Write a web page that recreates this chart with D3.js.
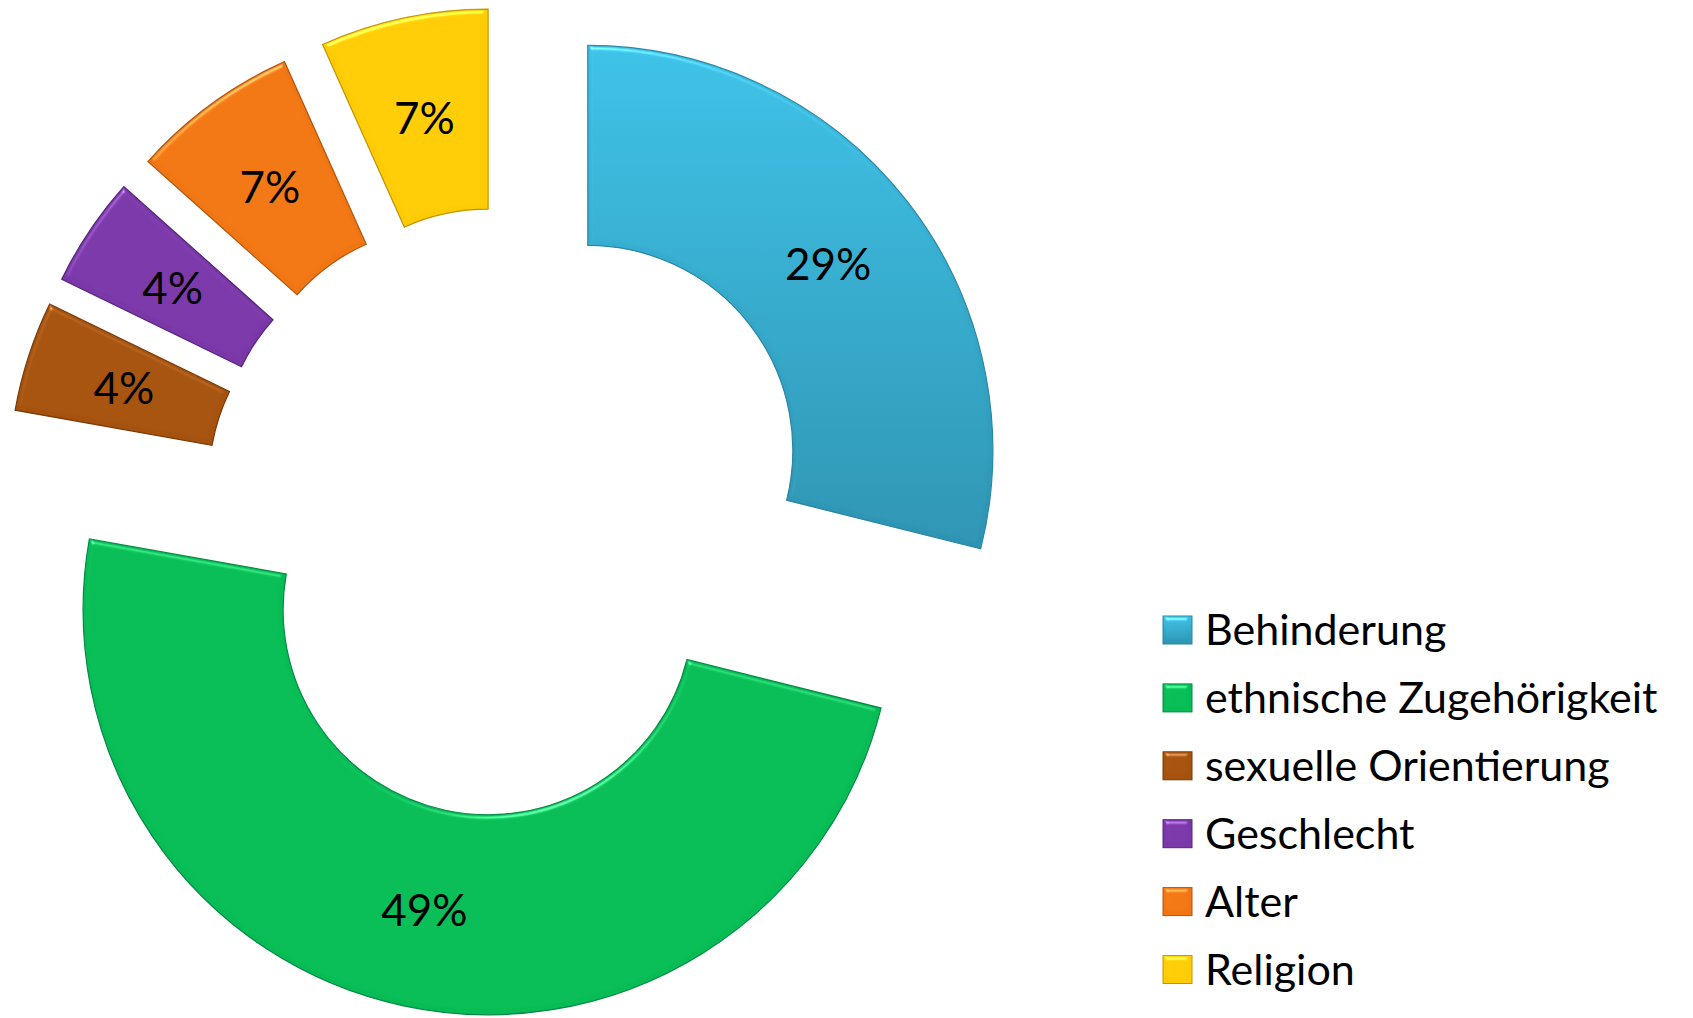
<!DOCTYPE html>
<html>
<head>
<meta charset="utf-8">
<script src="https://cdn.jsdelivr.net/npm/d3@7"></script>
<style>
    html, body { margin: 0; padding: 0; background: #fff; }
    svg { display: block; }
    text { font-family: Lato, "Open Sans", sans-serif; fill: #000; }
</style>
</head>
<body>
<div id="chart"></div>
<script>
// data (shares in percent)
const categories = ["Behinderung", "ethnische Zugehörigkeit", "sexuelle Orientierung", "Geschlecht", "Alter", "Religion"];
const shares = [28.9, 48.9, 4.4, 4.4, 6.7, 6.7];

const colors = ["#3bbbe0", "#07bb55", "#a5520e", "#7a37a8", "#f07613", "#ffcb05"];
const strokes = ["#2a86a3", "#058a45", "#7a3a08", "#56247b", "#b4560c", "#bf9602"];

const width = 1693, height = 1018;
const cx = 509, cy = 512;
const outerR = 405, innerR = 205;
const explode = 100;

const svg = d3.select("#chart")
    .append("svg")
    .attr("width", width)
    .attr("height", height);

const defs = svg.append("defs");

// soft bevel look: a light rim on the upper edges
const bevel = defs.append("filter")
    .attr("id", "bevel")
    .attr("color-interpolation-filters", "sRGB")
    .attr("x", "-5%").attr("y", "-5%")
    .attr("width", "110%").attr("height", "110%");
bevel.append("feGaussianBlur")
    .attr("in", "SourceAlpha")
    .attr("stdDeviation", 2.5)
    .attr("result", "blur");
bevel.append("feSpecularLighting")
    .attr("in", "blur")
    .attr("surfaceScale", 3)
    .attr("specularConstant", 0.5)
    .attr("specularExponent", 45)
    .attr("lighting-color", "#ffffff")
    .attr("result", "spec")
    .append("feDistantLight")
    .attr("azimuth", 250)
    .attr("elevation", 45);
bevel.append("feComposite")
    .attr("in", "spec")
    .attr("in2", "SourceAlpha")
    .attr("operator", "in")
    .attr("result", "specOut");
bevel.append("feComposite")
    .attr("in", "SourceGraphic")
    .attr("in2", "specOut")
    .attr("operator", "arithmetic")
    .attr("k1", 0).attr("k2", 1).attr("k3", 0.8).attr("k4", 0);

// blue slice shades from light at the top to darker at the bottom
const blueGrad = defs.append("linearGradient")
    .attr("id", "blueGrad")
    .attr("x1", 0).attr("y1", 0).attr("x2", 0).attr("y2", 1);
blueGrad.append("stop").attr("offset", "0%").attr("stop-color", "#3cc0e5");
blueGrad.append("stop").attr("offset", "100%").attr("stop-color", "#2e93b1");

const fillFor = i => i === 0 ? "url(#blueGrad)" : colors[i];

const pie = d3.pie().sort(null).value(d => d);
const arcs = pie(shares);

const arc = d3.arc()
    .innerRadius(innerR)
    .outerRadius(outerR);

const slices = svg.append("g")
    .attr("transform", `translate(${cx},${cy})`)
    .selectAll("g")
    .data(arcs)
    .join("g")
    .attr("transform", d => {
        const mid = (d.startAngle + d.endAngle) / 2;
        return `translate(${explode * Math.sin(mid)},${-explode * Math.cos(mid)})`;
    });

slices.append("path")
    .attr("d", arc)
    .attr("fill", (d, i) => fillFor(i))
    .attr("stroke", (d, i) => strokes[i])
    .attr("stroke-width", 1.2)
    .attr("filter", "url(#bevel)");

slices.append("text")
    .attr("transform", d => `translate(${arc.centroid(d)})`)
    .attr("text-anchor", "middle")
    .attr("dy", "0.4em")
    .style("font-size", "44px")
    .text(d => Math.round(d.value) + "%");

// legend
const legend = svg.append("g")
    .attr("transform", "translate(1163,630)")
    .selectAll("g")
    .data(categories)
    .join("g")
    .attr("transform", (d, i) => `translate(0,${i * 67.9})`);

legend.append("rect")
    .attr("x", 0)
    .attr("y", -14)
    .attr("width", 29)
    .attr("height", 28)
    .attr("fill", (d, i) => fillFor(i))
    .attr("stroke", (d, i) => strokes[i])
    .attr("stroke-width", 1)
    .attr("filter", "url(#bevel)");

legend.append("text")
    .attr("x", 42)
    .attr("dy", "0.35em")
    .style("font-size", "43px")
    .text(d => d);
</script>
</body>
</html>
